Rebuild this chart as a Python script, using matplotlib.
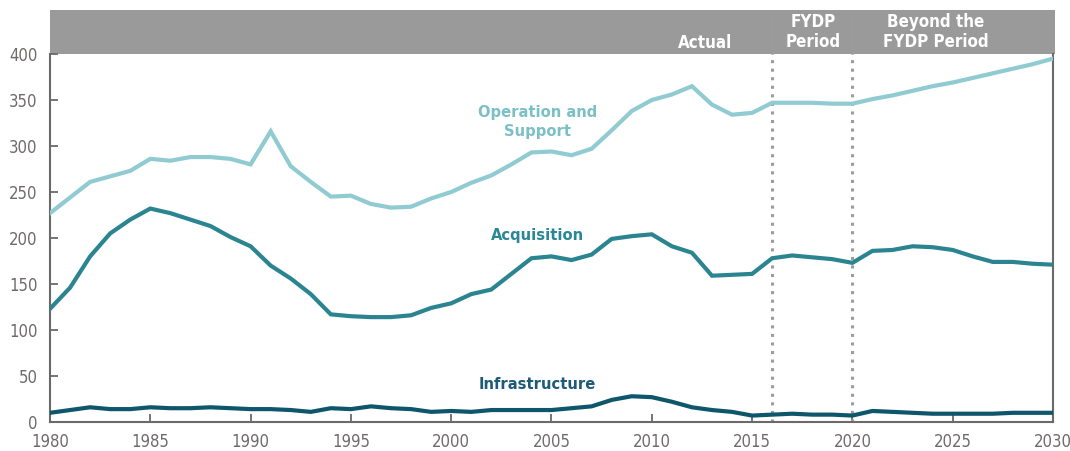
import matplotlib
matplotlib.use("Agg")
import matplotlib.pyplot as plt
from matplotlib.patches import Rectangle

years = list(range(1980, 2031))

operation_support = [227, 244, 261, 267, 273, 286, 284, 288, 288, 286, 280, 316, 278, 261, 245, 246, 237, 233, 234, 243,
                     250, 260, 268, 280, 293, 294, 290, 297, 317, 338, 350, 356, 365, 345, 334, 336, 347, 347, 347, 346,
                     346, 351, 355, 360, 365, 369, 374, 379, 384, 389, 395]
acquisition = [123, 146, 180, 205, 220, 232, 227, 220, 213, 201, 191, 170, 156, 139, 117, 115, 114, 114, 116, 124,
               129, 139, 144, 161, 178, 180, 176, 182, 199, 202, 204, 191, 184, 159, 160, 161, 178, 181, 179, 177,
               173, 186, 187, 191, 190, 187, 180, 174, 174, 172, 171]
infrastructure = [10, 13, 16, 14, 14, 16, 15, 15, 16, 15, 14, 14, 13, 11, 15, 14, 17, 15, 14, 11,
                  12, 11, 13, 13, 13, 13, 15, 17, 24, 28, 27, 22, 16, 13, 11, 7, 8, 9, 8, 8,
                  7, 12, 11, 10, 9, 9, 9, 9, 10, 10, 10]

series_labels = ["Operation and\nSupport", "Acquisition", "Infrastructure"]
period_labels = ["Actual", "FYDP\nPeriod", "Beyond the\nFYDP Period"]
period_bounds = [2016, 2020]
x_ticks = [1980, 1985, 1990, 1995, 2000, 2005, 2010, 2015, 2020, 2025, 2030]
y_ticks = [0, 50, 100, 150, 200, 250, 300, 350, 400]

plt.rcParams['font.family'] = ['DejaVu Sans']
plt.rcParams['font.stretch'] = 'condensed'

c_os = "#8fcbd1"
c_acq = "#2b8591"
c_inf = "#0e566b"
c_os_lbl = "#7cc0c7"
c_acq_lbl = "#2a8796"
c_inf_lbl = "#1d5c77"
tick_col = "#6e6a6a"
band_col = "#9a9a9a"
axis_col = "#6a6a6a"

fig = plt.figure(figsize=(10.7, 4.51), dpi=100)
ax = fig.add_axes([50/1070, 29/451, 1003/1070, 368/451])

ax.plot(years, operation_support, color=c_os, lw=3.0, solid_joinstyle='miter', zorder=3)
ax.plot(years, acquisition, color=c_acq, lw=3.0, solid_joinstyle='miter', zorder=3)
ax.plot(years, infrastructure, color=c_inf, lw=3.0, solid_joinstyle='miter', zorder=3)

ax.set_xlim(1980, 2030)
ax.set_ylim(0, 400)

# header band
band_h = 44/368
ax.add_patch(Rectangle((0, 1), 1.002, band_h, transform=ax.transAxes, facecolor=band_col,
                       edgecolor='none', clip_on=False, zorder=1))

for xb in period_bounds:
    ax.plot([xb, xb], [0, 400 * (1 + band_h)], color="#9c9c9c", lw=2.2,
            linestyle=(0, (1.0, 1.8)), clip_on=False, zorder=2)

ax.set_xticks(x_ticks)
ax.set_yticks(y_ticks)
ax.tick_params(axis='both', direction='in', length=6, width=1.3, color=axis_col,
               labelcolor=tick_col, labelsize=12)
ax.tick_params(axis='x', pad=8)
ax.tick_params(axis='y', pad=9)
for s in ['left', 'bottom', 'right']:
    ax.spines[s].set_color(axis_col)
    ax.spines[s].set_linewidth(1.5)
ax.spines['top'].set_visible(False)

# series labels
ax.text(2004.3, 326, series_labels[0], color=c_os_lbl, fontsize=11.8, fontweight='bold',
        ha='center', va='center', linespacing=1.35)
ax.text(2004.3, 203, series_labels[1], color=c_acq_lbl, fontsize=11.8, fontweight='bold',
        ha='center', va='center')
ax.text(2004.3, 41, series_labels[2], color=c_inf_lbl, fontsize=11.8, fontweight='bold',
        ha='center', va='center')

# header labels
ax.text(2014.0, 412, period_labels[0], color='white', fontsize=12.2, fontweight='bold',
        ha='right', va='center', clip_on=False)
ax.text(2018.05, 424, period_labels[1], color='white', fontsize=12.2, fontweight='bold',
        ha='center', va='center', linespacing=1.15, clip_on=False)
ax.text(2024.15, 424, period_labels[2], color='white', fontsize=12.2, fontweight='bold',
        ha='center', va='center', linespacing=1.15, clip_on=False)

fig.savefig("out.png", dpi=100)
